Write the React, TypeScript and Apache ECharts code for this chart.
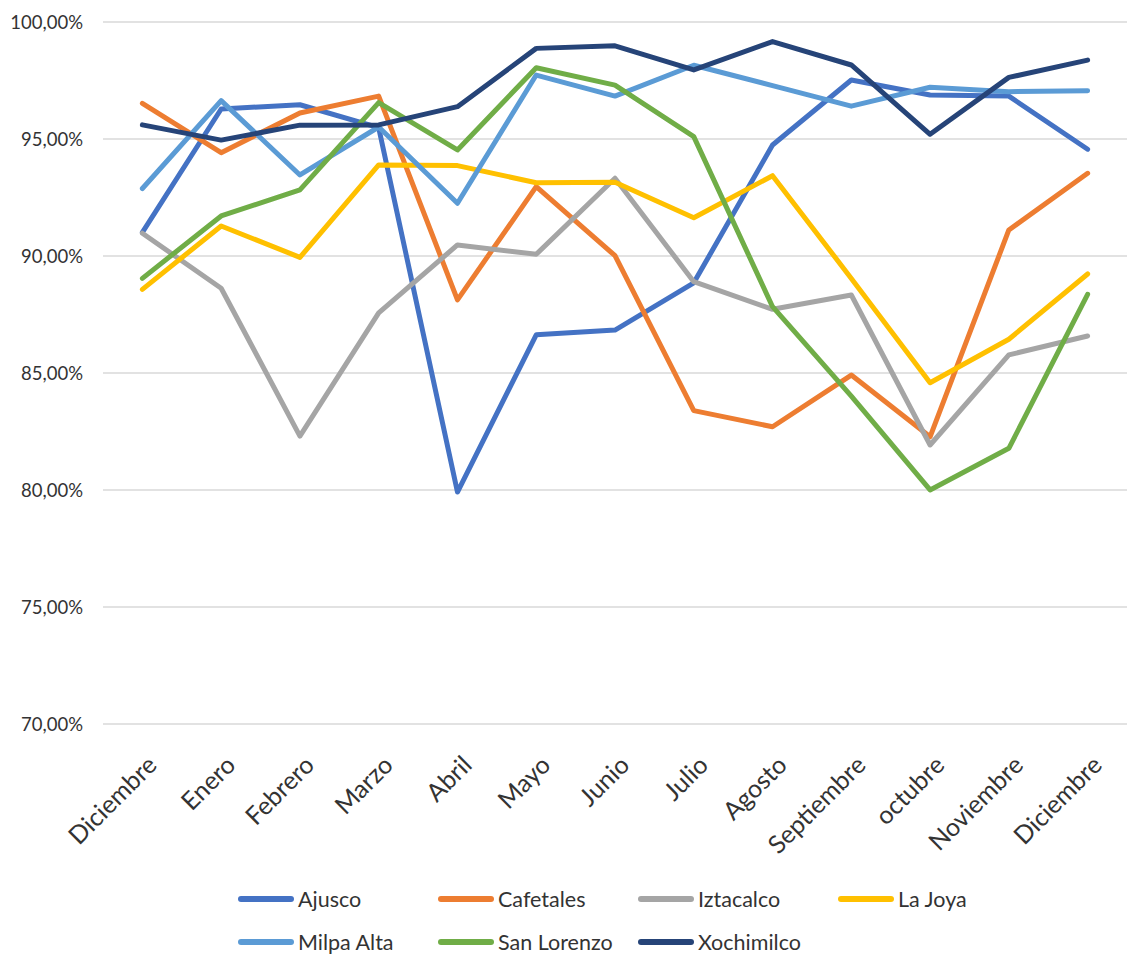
import React, { useEffect, useRef } from "react";
import * as echarts from "echarts";

// Monthly percentages per site (December of the previous year through December)
const months = [
  "Diciembre", "Enero", "Febrero", "Marzo", "Abril", "Mayo", "Junio",
  "Julio", "Agosto", "Septiembre", "octubre", "Noviembre", "Diciembre",
];

const ajusco = [91.0, 96.27, 96.45, 95.47, 79.9, 86.62, 86.82, 88.84, 94.73, 97.51, 96.87, 96.82, 94.55];
const cafetales = [96.51, 94.4, 96.1, 96.82, 88.11, 92.95, 90.0, 83.38, 82.69, 84.9, 82.26, 91.1, 93.52];
const iztacalco = [90.96, 88.61, 82.29, 87.56, 90.46, 90.06, 93.31, 88.89, 87.71, 88.32, 81.91, 85.76, 86.57];
const laJoya = [88.56, 91.27, 89.93, 93.88, 93.85, 93.12, 93.14, 91.62, 93.42, 89.03, 84.57, 86.43, 89.22];
const milpaAlta = [92.87, 96.63, 93.45, 95.5, 92.24, 97.72, 96.82, 98.14, 97.27, 96.39, 97.2, 97.01, 97.05];
const sanLorenzo = [89.03, 91.7, 92.81, 96.54, 94.52, 98.03, 97.29, 95.09, 87.82, 84.0, 79.99, 81.77, 88.35];
const xochimilco = [95.59, 94.94, 95.58, 95.59, 96.37, 98.86, 98.97, 97.94, 99.15, 98.15, 95.19, 97.62, 98.36];

const seriesDefs = [
  { name: "Ajusco", data: ajusco, color: "#4472C4" },
  { name: "Cafetales", data: cafetales, color: "#ED7D31" },
  { name: "Iztacalco", data: iztacalco, color: "#A5A5A5" },
  { name: "La Joya", data: laJoya, color: "#FFC000" },
  { name: "Milpa Alta", data: milpaAlta, color: "#5B9BD5" },
  { name: "San Lorenzo", data: sanLorenzo, color: "#70AD47" },
  { name: "Xochimilco", data: xochimilco, color: "#264478" },
];

const FONT = "Lato, 'Liberation Sans', sans-serif";
const TEXT_COLOR = "#333333";

// Legend slots: two rows, four columns
const legendCols = [238, 438, 638, 838];
const legendRows = [888, 931];

const pillIcon =
  "path://M3,0 H53 A3,3 0 0 1 53,6 H3 A3,3 0 0 1 3,0 Z";

export default function App() {
  const ref = useRef<HTMLDivElement>(null);

  useEffect(() => {
    if (!ref.current) return;
    const chart = echarts.init(ref.current, null, { renderer: "svg" });

    const legends = seriesDefs.map((s, i) => ({
      data: [s.name],
      left: legendCols[i % 4],
      top: legendRows[Math.floor(i / 4)],
      orient: "horizontal",
      padding: 0,
      icon: pillIcon,
      itemWidth: 56,
      itemHeight: 6,
      itemGap: 0,
      selectedMode: false,
      textStyle: { fontFamily: FONT, fontSize: 21.5, color: TEXT_COLOR, padding: [0, 0, 0, -1] },
    }));

    chart.setOption({
      animation: false,
      backgroundColor: "#ffffff",
      legend: legends,
      grid: { left: 103, top: 21.7, width: 1038, height: 702 },
      xAxis: {
        type: "category",
        data: months,
        boundaryGap: true,
        axisLine: { show: false },
        axisTick: { show: false },
        axisLabel: {
          rotate: 45,
          interval: 0,
          margin: 27,
          align: "right",
          verticalAlign: "top",
          fontFamily: FONT,
          fontSize: 25,
          color: TEXT_COLOR,
        },
      },
      yAxis: {
        type: "value",
        min: 70,
        max: 100,
        interval: 5,
        axisLine: { show: false },
        axisTick: { show: false },
        splitLine: { lineStyle: { color: "#D9D9D9", width: 1.5 } },
        axisLabel: {
          margin: 20,
          fontFamily: FONT,
          fontSize: 18.5,
          color: TEXT_COLOR,
          formatter: (v: number) => v.toFixed(2).replace(".", ",") + "%",
        },
      },
      series: seriesDefs.map((s) => ({
        name: s.name,
        type: "line",
        data: s.data,
        symbol: "none",
        color: s.color,
        lineStyle: { color: s.color, width: 5, cap: "round", join: "round" },
      })),
    });

    return () => chart.dispose();
  }, []);

  return (
    <div
      ref={ref}
      style={{ position: "absolute", left: 0, top: 0, width: 1127, height: 954 }}
    />
  );
}
